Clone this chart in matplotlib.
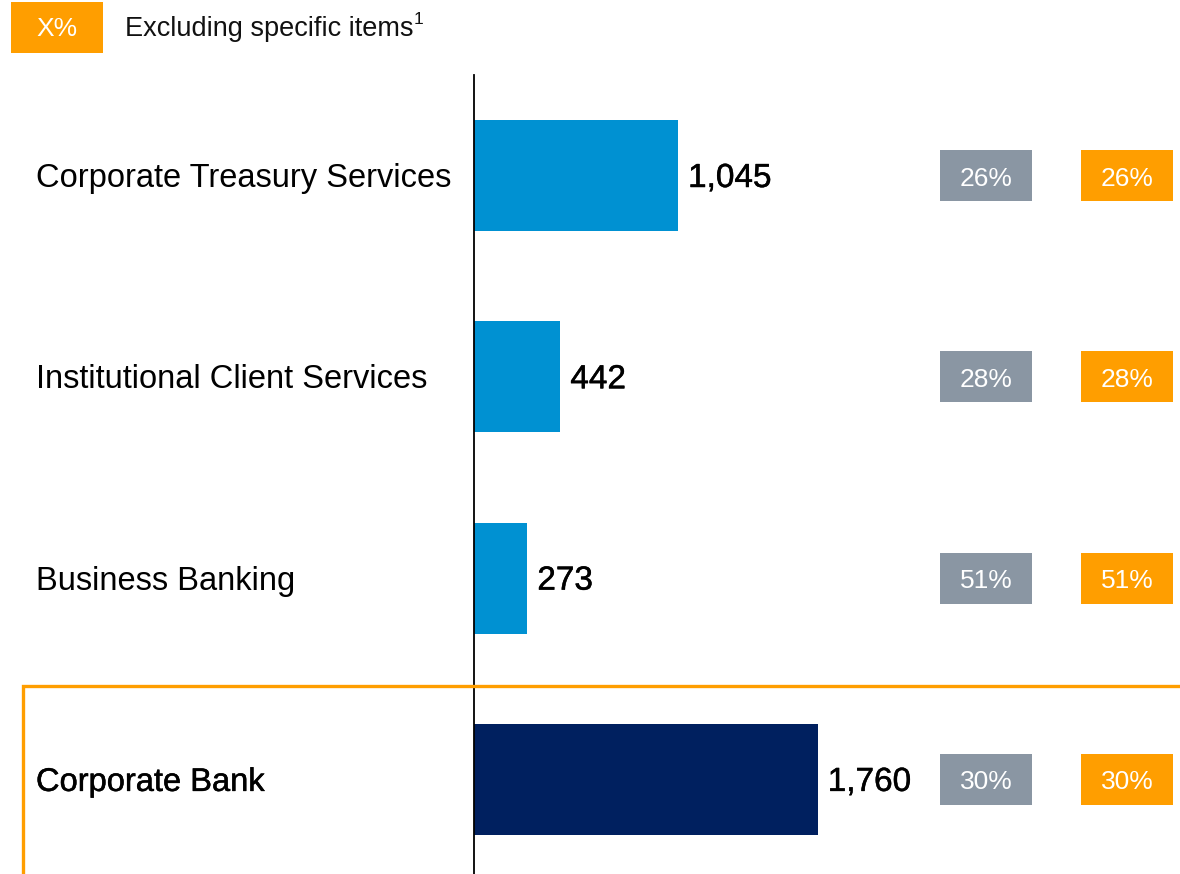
import matplotlib
matplotlib.use("Agg")
from matplotlib import pyplot as plt
from matplotlib.patches import Rectangle
from matplotlib.lines import Line2D
import matplotlib.transforms as mtransforms
import matplotlib.patheffects as pe

plt.rcParams['font.family'] = ['Liberation Sans', 'DejaVu Sans']

segments = ['Corporate Treasury Services', 'Institutional Client Services',
            'Business Banking', 'Corporate Bank']
revenues = [1045, 442, 273, 1760]
share_reported = ['26%', '28%', '51%', '30%']
share_excl = ['26%', '28%', '51%', '30%']

blue = '#0091D2'
navy = '#00205F'
grey = '#8A96A3'
orange = '#FF9E00'

W, H = 1180, 874
fig = plt.figure(figsize=(W / 100, H / 100), dpi=100)
ax = fig.add_axes([0, 0, 1, 1])

# x: value units with zero at the divider line; y: one unit per row
px_per_unit = 0.1953
x0 = 474
ax.set_xlim(-x0 / px_per_unit, (W - x0) / px_per_unit)
row_px = 201.3
first_px = 175.5
ax.set_ylim((H - first_px) / row_px, -first_px / row_px)
ax.axis('off')

rows = list(range(len(segments)))
colors = [blue, blue, blue, navy]
ax.barh(rows, revenues, height=111 / row_px, color=colors, left=0)

ax.axvline(0, ymin=0, ymax=1 - 75 / H, color='black', lw=1.3)

heavy = [pe.withStroke(linewidth=0.35, foreground='black')]
trans = mtransforms.blended_transform_factory(ax.transAxes, ax.transData)
down = mtransforms.ScaledTranslation(0, -3 / 100, fig.dpi_scale_trans)
box_h = 51 / row_px
box_w = 92 / W
for i in rows:
    ax.text(36 / W, i, segments[i], transform=trans + down, ha='left',
            va='center', fontsize=23.5, color='black',
            path_effects=heavy if i == 3 else None)
    ax.annotate(f'{revenues[i]:,}', xy=(revenues[i], i), xytext=(10, -3),
                textcoords='offset pixels', ha='left', va='center',
                fontsize=24, color='black', path_effects=heavy)
    for xl, txt, col in [(940 / W, share_reported[i], grey),
                         (1081 / W, share_excl[i], orange)]:
        ax.add_patch(Rectangle((xl, i - box_h / 2), box_w, box_h,
                               transform=trans, color=col, lw=0))
        ax.text(xl + box_w / 2, i, txt, transform=trans + down, ha='center',
                va='center', fontsize=19, color='white')

# highlight frame around the total row
fx = 23 / W
fy = 1 - 686 / H
fig.add_artist(Line2D([fx, fx, 1.0], [0, fy, fy], transform=fig.transFigure,
                      color=orange, lw=2.4, solid_joinstyle='miter'))

# legend
fig.add_artist(Rectangle((11 / W, 1 - 53 / H), 92 / W, 51 / H,
                         transform=fig.transFigure, color=orange, lw=0))
fig.text(57 / W, 1 - 29 / H, 'X%', ha='center', va='center',
         fontsize=19, color='white')
fig.text(125 / W, 1 - 29 / H, 'Excluding specific items', ha='left',
         va='center', fontsize=19.5, color='#111111')
fig.text(414 / W, 1 - 20 / H, '1', ha='left', va='center',
         fontsize=12.5, color='#111111')

fig.savefig('out.png', dpi=100)
